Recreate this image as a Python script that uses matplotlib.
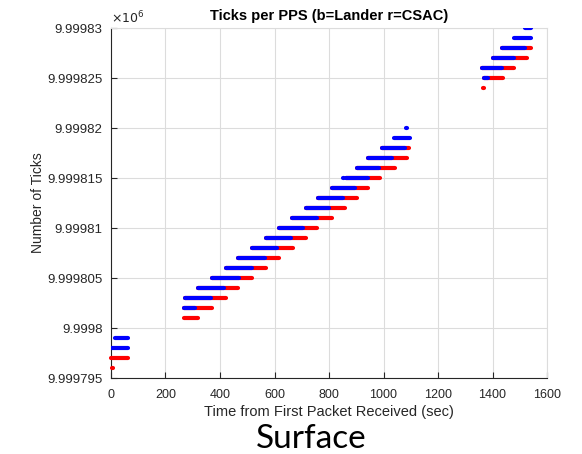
import matplotlib
matplotlib.use("Agg")
import matplotlib.pyplot as plt
from matplotlib.ticker import FuncFormatter

# tick count levels and the time span (sec) each receiver sat on that level
lander_levels = [9999798, 9999799,
                 9999802, 9999803, 9999804, 9999805, 9999806, 9999807,
                 9999808, 9999809, 9999810, 9999811, 9999812, 9999813,
                 9999814, 9999815, 9999815, 9999816, 9999817, 9999818,
                 9999819, 9999820,
                 9999825, 9999826, 9999827, 9999828, 9999829, 9999830]
lander_start = [0, 15,
                269, 272, 318, 370, 422, 467,
                519, 569, 618, 664, 716, 761,
                810, 851, 862, 902, 944, 993,
                1039, 1083,
                1367, 1361, 1401, 1433, 1477, 1521]
lander_end = [62, 62,
              310, 367, 416, 469, 516, 565,
              611, 661, 705, 757, 800, 853,
              895, 854, 944, 984, 1030, 1079,
              1097, 1086,
              1382, 1435, 1477, 1521, 1541, 1543]

csac_levels = [9999796, 9999797,
               9999801, 9999802, 9999803, 9999804, 9999805, 9999806,
               9999807, 9999808, 9999809, 9999810, 9999811, 9999812,
               9999813, 9999814, 9999815, 9999816, 9999817, 9999818,
               9999824, 9999825, 9999826, 9999827, 9999828]
csac_start = [4, 0,
              268, 269, 272, 318, 370, 422,
              467, 519, 569, 618, 664, 716,
              761, 810, 862, 902, 944, 993,
              1364, 1367, 1361, 1401, 1433]
csac_end = [6, 62,
            319, 369, 421, 467, 519, 568,
            616, 669, 715, 757, 810, 859,
            902, 944, 987, 1041, 1085, 1093,
            1370, 1437, 1477, 1528, 1543]

x_ticks = [0, 200, 400, 600, 800, 1000, 1200, 1400, 1600]
y_ticks = [9999795, 9999800, 9999805, 9999810, 9999815, 9999820,
           9999825, 9999830]


def fmt_y(v, pos):
    return "{:.7g}".format(v / 1e6)


def main():
    plt.rcParams["font.family"] = ["Liberation Sans", "DejaVu Sans"]

    fig = plt.figure(figsize=(5.82, 4.54), dpi=100)
    ax = fig.add_axes([0.1907, 0.1674, 0.7492, 0.7709])

    ax.hlines(csac_levels, csac_start, csac_end, colors="#ff0000",
              linewidth=3.0, capstyle="round", zorder=3, clip_on=False)
    ax.hlines(lander_levels, lander_start, lander_end, colors="#0000ff",
              linewidth=3.0, capstyle="round", zorder=4)

    ax.set_xlim(0, 1600)
    ax.set_ylim(9999795, 9999830)
    ax.set_xticks(x_ticks)
    ax.set_yticks(y_ticks)
    ax.yaxis.set_major_formatter(FuncFormatter(fmt_y))

    ax.grid(True, color="#dcdcdc", linewidth=0.8, zorder=0)
    ax.set_axisbelow(True)
    for side in ["top", "right"]:
        ax.spines[side].set_color("#dcdcdc")
    for side in ["left", "bottom"]:
        ax.spines[side].set_color("#262626")
    ax.tick_params(direction="in", length=4, width=0.8, colors="#262626")
    ax.tick_params(axis="x", labelsize=9, pad=8)
    ax.tick_params(axis="y", labelsize=9.5, pad=6)

    ax.set_title("Ticks per PPS (b=Lander r=CSAC)", fontsize=10.5,
                 fontweight="bold", pad=6)
    ax.set_xlabel("Time from First Packet Received (sec)", fontsize=10.5,
                  color="#262626", labelpad=3)
    ax.set_ylabel("Number of Ticks", fontsize=10, color="#262626",
                  labelpad=2)
    ax.text(0.0, 1.005, r"$\times10^6$", transform=ax.transAxes,
            fontsize=9, color="#262626", ha="left", va="bottom")

    fig.text(0.535, 0.014, "Surface", fontsize=24, family="Lato",
             ha="center", va="baseline")

    fig.savefig("out.png", dpi=100)
    plt.close(fig)


if __name__ == "__main__":
    main()
